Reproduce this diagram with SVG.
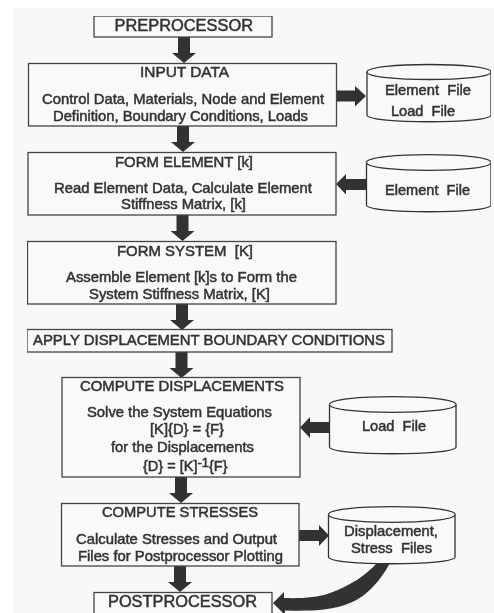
<svg xmlns="http://www.w3.org/2000/svg" width="494" height="613" viewBox="0 0 494 613">
<defs>
<filter id="scan" x="0" y="0" width="100%" height="100%"><feGaussianBlur stdDeviation="0.35"/></filter>
<path id="down" d="M-6 0H6V16H12L0 26L-12 16H-6Z"/>
</defs>
<style>
.box{fill:#f9f9f9;stroke:#444;stroke-width:1.3}
.cyl{fill:#f9f9f9;stroke:#333;stroke-width:1.3}
text{font-family:"Liberation Sans",Arial,sans-serif;font-size:14.5px;fill:#333;stroke:#333;stroke-width:.5;white-space:pre}
.h{font-size:16px}
.arrow{fill:#333}
</style>
<rect width="494" height="613" fill="#fff"/>
<rect x="13" y="8" width="481" height="605" fill="#f8f8f8"/>
<g filter="url(#scan)">
<g id="connectors" class="arrow">
<use href="#down" x="184" y="37"/>
<use href="#down" x="183" y="126"/>
<use href="#down" x="182.500" y="215"/>
<use href="#down" x="182" y="304"/>
<use href="#down" x="181.500" y="352"/>
<use href="#down" x="181" y="477"/>
<use href="#down" x="180" y="566"/>
<path d="M336 90.500H355V86L366 96L355 106.500V101.500H336Z"/>
<path d="M366 179H346V174L336 184L346 194.500V190H366Z"/>
<path d="M330 422H310V417L300 427.500L310 438V433H330Z"/>
<path d="M299 530H319V525L329 535.500L319 546V541H299Z"/>
<path d="M377 563H390C382 578 368 596 350 603C330 611 310 611 285 610.500V613H283L273 603L284 592V598C300 598.500 316 598 330 593C350 586 366 575 377 563Z"/>
</g>
<g id="preprocessor"><rect class="box" x="94" y="16" width="178" height="21"/><text class="h" x="114.500" y="31" textLength="138.500" lengthAdjust="spacingAndGlyphs">PREPROCESSOR</text></g>
<g id="input-data"><rect class="box" x="28.500" y="63.500" width="308" height="62.500"/>
<text x="140" y="77" textLength="89" lengthAdjust="spacingAndGlyphs">INPUT DATA</text>
<text x="42" y="104" textLength="282" lengthAdjust="spacingAndGlyphs">Control Data, Materials, Node and Element</text>
<text x="53" y="121" textLength="255" lengthAdjust="spacingAndGlyphs">Definition, Boundary Conditions, Loads</text></g>
<g id="element-load-file"><path class="cyl" d="M367 72C367 62 491 62 491 72V115C491 124 367 124 367 115Z"/><path class="cyl" d="M367 72C367 82 491 82 491 72"/>
<text x="385" y="95" textLength="86" lengthAdjust="spacingAndGlyphs">Element  File</text>
<text x="391" y="116" textLength="64" lengthAdjust="spacingAndGlyphs">Load  File</text></g>
<g id="form-element"><rect class="box" x="28" y="152.500" width="308" height="62.500"/>
<text x="115" y="167" textLength="138" lengthAdjust="spacingAndGlyphs">FORM ELEMENT [k]</text>
<text x="54" y="193" textLength="258" lengthAdjust="spacingAndGlyphs">Read Element Data, Calculate Element</text>
<text x="121" y="209" textLength="125" lengthAdjust="spacingAndGlyphs">Stiffness Matrix, [k]</text></g>
<g id="element-file"><path class="cyl" d="M366.500 162.500C366.500 152 491 152 491 162.500V205C491 214 366.500 214 366.500 205Z"/><path class="cyl" d="M366.500 162.500C366.500 173 491 173 491 162.500"/>
<text x="385" y="195" textLength="85" lengthAdjust="spacingAndGlyphs">Element  File</text></g>
<g id="form-system"><rect class="box" x="27.500" y="241.500" width="308.500" height="62.500"/>
<text x="117" y="256" textLength="136" lengthAdjust="spacingAndGlyphs">FORM SYSTEM  [K]</text>
<text x="66" y="282" textLength="231" lengthAdjust="spacingAndGlyphs">Assemble Element [k]s to Form the</text>
<text x="89" y="299" textLength="181" lengthAdjust="spacingAndGlyphs">System Stiffness Matrix, [K]</text></g>
<g id="apply-bc"><rect class="box" x="27" y="329.500" width="365" height="22.500"/>
<text x="33" y="345" textLength="352" lengthAdjust="spacingAndGlyphs">APPLY DISPLACEMENT BOUNDARY CONDITIONS</text></g>
<g id="compute-displacements"><rect class="box" x="62" y="377.500" width="238" height="99.500"/>
<text x="80" y="391" textLength="204" lengthAdjust="spacingAndGlyphs">COMPUTE DISPLACEMENTS</text>
<text x="87" y="417" textLength="185" lengthAdjust="spacingAndGlyphs">Solve the System Equations</text>
<text x="150" y="434" textLength="74" lengthAdjust="spacingAndGlyphs">[K]{D} = {F}</text>
<text x="111" y="452" textLength="143" lengthAdjust="spacingAndGlyphs">for the Displacements</text>
<text x="143" y="471">{D} = [K]<tspan dy="-4" font-size="13">-1</tspan><tspan dy="4">{F}</tspan></text></g>
<g id="load-file"><path class="cyl" d="M329.500 404.500C329.500 394 456 394 456 404.500V447C456 456 329.500 456 329.500 447Z"/><path class="cyl" d="M329.500 404.500C329.500 415 456 415 456 404.500"/>
<text x="362" y="431" textLength="64" lengthAdjust="spacingAndGlyphs">Load  File</text></g>
<g id="compute-stresses"><rect class="box" x="61.500" y="503.500" width="237.500" height="62.500"/>
<text x="102" y="517" textLength="156" lengthAdjust="spacingAndGlyphs">COMPUTE STRESSES</text>
<text x="76" y="544" textLength="201" lengthAdjust="spacingAndGlyphs">Calculate Stresses and Output</text>
<text x="78" y="561" textLength="205" lengthAdjust="spacingAndGlyphs">Files for Postprocessor Plotting</text></g>
<g id="displacement-stress-files"><path class="cyl" d="M328.500 514.500C328.500 504 455 504 455 514.500V557C455 566 328.500 566 328.500 557Z"/><path class="cyl" d="M328.500 514.500C328.500 525 455 525 455 514.500"/>
<text x="344" y="536" textLength="94" lengthAdjust="spacingAndGlyphs">Displacement,</text>
<text x="351" y="553" textLength="81" lengthAdjust="spacingAndGlyphs">Stress  Files</text></g>
<g id="postprocessor"><rect class="box" x="94" y="592.500" width="178" height="24"/><text class="h" x="108" y="607" textLength="149" lengthAdjust="spacingAndGlyphs">POSTPROCESSOR</text></g>
</g>
</svg>
